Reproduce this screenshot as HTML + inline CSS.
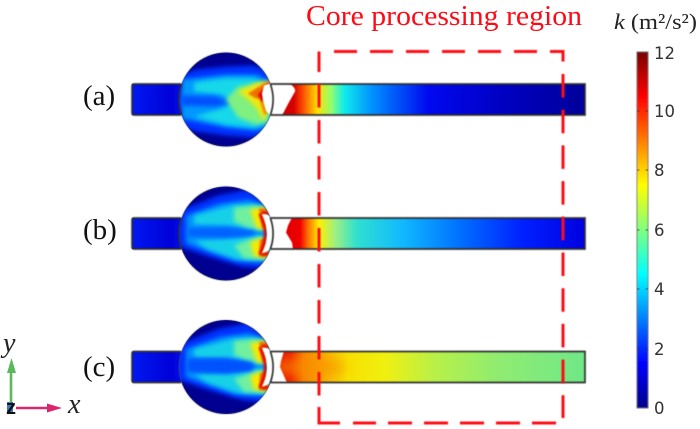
<!DOCTYPE html>
<html><head><meta charset="utf-8"><style>
html,body{margin:0;padding:0;background:#fff;width:700px;height:429px;overflow:hidden}
svg{display:block}
text{font-family:"Liberation Serif",serif}
</style></head><body>
<svg width="700" height="429" viewBox="0 0 700 429" xmlns="http://www.w3.org/2000/svg">
<defs>
<filter id="b3" filterUnits="userSpaceOnUse" x="-80" y="-80" width="160" height="160"><feGaussianBlur stdDeviation="3"/></filter>
<filter id="b2" filterUnits="userSpaceOnUse" x="-80" y="-80" width="160" height="160"><feGaussianBlur stdDeviation="2"/></filter>
<filter id="b1" filterUnits="userSpaceOnUse" x="-80" y="-80" width="160" height="160"><feGaussianBlur stdDeviation="1"/></filter>
<filter id="cf" filterUnits="userSpaceOnUse" x="250" y="-50" width="160" height="100"><feGaussianBlur stdDeviation="6"/></filter>
<filter id="s" filterUnits="userSpaceOnUse" x="0" y="0" width="700" height="429"><feGaussianBlur stdDeviation="0.45"/></filter>
<filter id="sl" filterUnits="userSpaceOnUse" x="-80" y="-80" width="700" height="160"><feGaussianBlur stdDeviation="0.45"/></filter>
<clipPath id="cc"><circle cx="0" cy="0" r="47"/></clipPath>
<clipPath id="chan"><rect x="272" y="-15.5" width="313" height="31"/></clipPath>
<linearGradient id="ga" x1="272" x2="585" gradientUnits="userSpaceOnUse" y1="0" y2="0">
<stop offset="0" stop-color="#c00000"/><stop offset=".07" stop-color="#d80000"/><stop offset=".1" stop-color="#ff5000"/><stop offset=".145" stop-color="#ffe000"/><stop offset=".19" stop-color="#90ff70"/><stop offset=".23" stop-color="#10ecec"/><stop offset=".32" stop-color="#0090ff"/><stop offset=".5" stop-color="#0008f0"/><stop offset=".75" stop-color="#0000c0"/><stop offset="1" stop-color="#00009a"/>
</linearGradient>
<linearGradient id="gb" x1="272" x2="585" gradientUnits="userSpaceOnUse" y1="0" y2="0">
<stop offset="0" stop-color="#d00000"/><stop offset=".09" stop-color="#f00000"/><stop offset=".115" stop-color="#ff7000"/><stop offset=".15" stop-color="#fff000"/><stop offset=".2" stop-color="#a0f080"/><stop offset=".27" stop-color="#30e0d0"/><stop offset=".42" stop-color="#10b8ff"/><stop offset=".6" stop-color="#0070ff"/><stop offset=".8" stop-color="#0020ff"/><stop offset="1" stop-color="#0000e0"/>
</linearGradient>
<linearGradient id="gc" x1="272" x2="585" gradientUnits="userSpaceOnUse" y1="0" y2="0">
<stop offset="0" stop-color="#e01000"/><stop offset=".06" stop-color="#f02000"/><stop offset=".1" stop-color="#f88000"/><stop offset=".17" stop-color="#f8b000"/><stop offset=".24" stop-color="#f8e000"/><stop offset=".36" stop-color="#f0f010"/><stop offset=".52" stop-color="#b8f048"/><stop offset=".72" stop-color="#90ec70"/><stop offset="1" stop-color="#70e888"/>
</linearGradient>
<linearGradient id="cb" x1="0" y1="0" x2="0" y2="1">
<stop offset="0" stop-color="#7a0000"/><stop offset=".125" stop-color="#ff0000"/><stop offset=".375" stop-color="#ffff00"/><stop offset=".625" stop-color="#00ffff"/><stop offset=".875" stop-color="#0000ff"/><stop offset="1" stop-color="#00008a"/>
</linearGradient>
<linearGradient id="inl" x1="132" x2="182" gradientUnits="userSpaceOnUse" y1="0" y2="0">
<stop offset="0" stop-color="#0018f0"/><stop offset=".8" stop-color="#0000d8"/><stop offset="1" stop-color="#0010f0"/>
</linearGradient>
<g id="fieldBC">
<g clip-path="url(#cc)">
<rect x="-50" y="-50" width="100" height="100" fill="#000090"/>
<polygon points="-56,-18 -41,-25 -8,-38 22,-44 44,-34 50,-20 50,32 37,35 16,33 -18,23 -41,15 -56,12" fill="#0030ff" filter="url(#b2)"/>
<polygon points="-40,-18 -6,-30 22,-34 42,-28 46,-10 46,28 30,29 8,27 -18,18 -40,10" fill="#0090ff" filter="url(#b2)"/>
<polygon points="-32,-18 6,-28 28,-29 40,-24 38,-3 2,-8 -32,-9" fill="#18d0e8" filter="url(#b2)"/>
<polygon points="-32,7 2,5 36,2 40,26 12,26 -18,16" fill="#18d0e8" filter="url(#b2)"/>
<polygon points="-38,-5 0,-6 28,-3 28,2 0,4 -38,3" fill="#0060ff" filter="url(#b2)"/>
<polygon points="8,-26 30,-28 40,-26 40,-4 22,-6 8,-12" fill="#70f0a0" filter="url(#b2)"/>
<polygon points="8,12 26,5 40,3 42,26 18,25" fill="#70f0a0" filter="url(#b2)"/>
<polygon points="24,-24 38,-26 42,-5 31,-4" fill="#f8e800" filter="url(#b2)"/>
<polygon points="24,9 36,4 42,24 28,23" fill="#f8e800" filter="url(#b2)"/>
<polygon points="33,-25 42,-25 42,-7 36,-5" fill="#f07000" filter="url(#b1)"/>
<polygon points="34,6 40,5 43,24 33,23" fill="#f07000" filter="url(#b1)"/>
<path d="M34,-20 L38.500,-8 L39.500,1 L38,10 L34,21" fill="none" stroke="#e00000" stroke-width="3" filter="url(#b1)"/>
<path d="M36,-21 L44,-20" fill="none" stroke="#e00000" stroke-width="2.500" filter="url(#b1)"/>
<path d="M36,21 L44,20" fill="none" stroke="#e00000" stroke-width="2.500" filter="url(#b1)"/>
</g>
<path d="M36,-19 Q41,-20 44,-17 Q48,-8 47.500,0 Q48,8 44,15 Q41,19 36,19.500 Q41,10 41,1 Q41,-9 36,-19Z" fill="#fff" filter="url(#sl)"/>
</g>
</defs>

<!-- ROW A -->
<g transform="translate(0,99.5)">
<rect x="132" y="-15.5" width="50" height="31" fill="url(#inl)"/>
<rect x="272" y="-15.5" width="313" height="31" fill="url(#ga)"/>
<path d="M268,-16 H290 Q296,-11 295,-8 Q288,4 282,16 H268Z" fill="#fff" filter="url(#sl)"/>
<g transform="translate(226,0)">
<g clip-path="url(#cc)">
<rect x="-50" y="-50" width="100" height="100" fill="#000090"/>
<polygon points="-56,-22 -30,-30 0,-33 26,-34 50,-28 50,34 26,38 0,36 -30,32 -56,24" fill="#0030ff" filter="url(#b2)"/>
<polygon points="-44,-20 0,-25 30,-25 46,-18 46,28 30,31 0,28 -44,19" fill="#0098ff" filter="url(#b2)"/>
<polygon points="-32,-17 0,-21 28,-21 44,-12 44,22 28,28 0,25 -32,17 -4,9 8,3 -4,-5 -32,-8" fill="#18d8e8" filter="url(#b2)"/>
<polygon points="-44,-4 -10,-3 4,3 -10,7 -44,6" fill="#0050ff" filter="url(#b2)"/>
<polygon points="0,0 12,-13 32,-16 42,-4 42,22 30,25 12,18" fill="#80f080" filter="url(#b2)"/>
<polygon points="12,-8 34,-18 45,-18 42,0 41,14 38,22 30,8 22,0" fill="#f0e810" filter="url(#b2)"/>
<polygon points="22,-6 38,-16 46,-19 44,-4 38,-1 30,-1" fill="#f07000" filter="url(#b1)"/>
<polygon points="34,2 38,0 42,14 38,15" fill="#f09000" filter="url(#b1)"/>
<path d="M32,-5 L40,-14 L47,-18 L47,-12 L38,2 L35,2Z" fill="#e00000" filter="url(#b1)"/>
</g>
<path d="M38,-14 L44,-16 L48,-16 L48,17 L44,16 L40,11 L37,1 L36,-6Z" fill="#fff" filter="url(#sl)"/>
</g>
</g>
<!-- ROW B -->
<g transform="translate(0,233.5)">
<rect x="132" y="-15.5" width="50" height="31" fill="url(#inl)"/>
<rect x="272" y="-15.5" width="313" height="31" fill="url(#gb)"/>
<path d="M270,-16 H292 L288,-8 L286,-1 L292,9 L293,16 H270Z" fill="#fff" filter="url(#sl)"/>
<g transform="translate(226,0)"><use href="#fieldBC"/></g>
</g>
<!-- ROW C -->
<g transform="translate(0,367)">
<rect x="132" y="-15.5" width="50" height="31" fill="url(#inl)"/>
<rect x="272" y="-15.5" width="313" height="31" fill="url(#gc)"/>
<g clip-path="url(#chan)"><ellipse cx="308" cy="0" rx="38" ry="8" fill="#f89000" opacity=".7" filter="url(#cf)"/></g>
<path d="M270,-16 H284 L281,-6 L280,0 L284,9 L287,16 H270Z" fill="#fff" filter="url(#sl)"/>
<g transform="translate(226,0)"><use href="#fieldBC"/>
<g clip-path="url(#cc)"><polygon points="-38,-9 0,-9 26,-5 26,4 0,7 -38,5" fill="#0050ff" opacity=".85" filter="url(#b2)"/></g></g>
</g>

<!-- outlines -->
<g fill="none" stroke="#333" stroke-width="1.7" filter="url(#s)">
<circle cx="226" cy="99.5" r="47" stroke-width=".6" stroke="#555"/>
<circle cx="226" cy="233.5" r="47" stroke-width=".6" stroke="#555"/>
<circle cx="226" cy="367" r="47" stroke-width=".6" stroke="#555"/>
<g transform="translate(0,99.5)">
<path d="M181,-15.5 H134 Q132,-15.5 132,-13 V13 Q132,15.5 134,15.5 H181"/>
<path d="M270,-15.5 H585 V15.5 H270"/>
<path d="M181.600,-15.5 A47,47 0 0 0 181.600,15.5"/>
<path d="M270.400,-15.500 A47,47 0 0 1 270.400,15.500"/>
</g>
<g transform="translate(0,233.5)">
<path d="M181,-15.5 H134 Q132,-15.5 132,-13 V13 Q132,15.500 134,15.500 H181"/>
<path d="M270,-15.5 H585 V15.5 H270"/>
<path d="M181.600,-15.5 A47,47 0 0 0 181.600,15.5"/>
<path d="M270.400,-15.500 A47,47 0 0 1 270.400,15.500"/>
</g>
<g transform="translate(0,367)">
<path d="M181,-15.5 H134 Q132,-15.5 132,-13 V13 Q132,15.500 134,15.500 H181"/>
<path d="M270,-15.5 H585 V15.5 H270"/>
<path d="M270.400,-15.500 A47,47 0 0 1 270.400,15.500"/>
</g>
</g>

<!-- red dashed -->
<g fill="none" stroke="#ff0a14" stroke-width="3" filter="url(#s)">
<path d="M334,51.500 H563 V61.500" stroke-dasharray="23 13"/>
<path d="M563,74 V418" stroke-dasharray="23.500 12.200"/>
<path d="M556,423 H353" stroke-dasharray="24 12"/>
<path d="M319,72 V51.500" />
<path d="M319,84 V396" stroke-dasharray="23.500 12.500"/>
<path d="M319,407 V423 H340"/>
</g>
<text x="306" y="25" font-size="28.5" fill="#ff0a14" textLength="276" lengthAdjust="spacingAndGlyphs">Core processing region</text>

<!-- row labels -->
<g font-size="29" fill="#111">
<text x="83" y="105">(a)</text>
<text x="83" y="239">(b)</text>
<text x="83" y="376">(c)</text>
</g>

<!-- colorbar -->
<rect x="637" y="52" width="11" height="356" fill="url(#cb)" stroke="#555" stroke-width=".8" filter="url(#s)"/>
<g stroke="#333" stroke-width="1" opacity=".7">
<path d="M637,111 h2.500 M648,111 h-2.500 M637,170 h2.500 M648,170 h-2.500 M637,230 h2.500 M648,230 h-2.500 M637,289 h2.500 M648,289 h-2.500 M637,349 h2.500 M648,349 h-2.500"/>
</g>
<g font-size="16.5" fill="#333">
<text x="654" y="59" style="font-family:'DejaVu Sans',sans-serif">12</text>
<text x="654" y="117" style="font-family:'DejaVu Sans',sans-serif">10</text>
<text x="654" y="176" style="font-family:'DejaVu Sans',sans-serif">8</text>
<text x="654" y="236" style="font-family:'DejaVu Sans',sans-serif">6</text>
<text x="654" y="295" style="font-family:'DejaVu Sans',sans-serif">4</text>
<text x="654" y="355" style="font-family:'DejaVu Sans',sans-serif">2</text>
<text x="654" y="414" style="font-family:'DejaVu Sans',sans-serif">0</text>
</g>
<text x="614" y="29" font-size="22.5" fill="#222" textLength="83" lengthAdjust="spacingAndGlyphs"><tspan font-style="italic">k</tspan> (m²/s²)</text>

<!-- axes -->
<rect x="7" y="402" width="6" height="10" fill="#3a78c0"/>
<line x1="11" y1="402" x2="11" y2="372" stroke="#5cb85c" stroke-width="2.6"/>
<polygon points="11.500,358 7,373 16,373" fill="#5cb85c"/>
<line x1="16" y1="408" x2="48" y2="408" stroke="#d8286e" stroke-width="2.6"/>
<polygon points="62,408 47,403.500 47,412.500" fill="#d8286e"/>
<text x="6" y="414" font-size="20" font-weight="bold" fill="#111" style="font-family:'Liberation Sans',sans-serif">z</text>
<text x="3" y="352" font-size="28" font-style="italic" fill="#222">y</text>
<text x="68" y="413" font-size="28" font-style="italic" fill="#222">x</text>
</svg>
</body></html>
